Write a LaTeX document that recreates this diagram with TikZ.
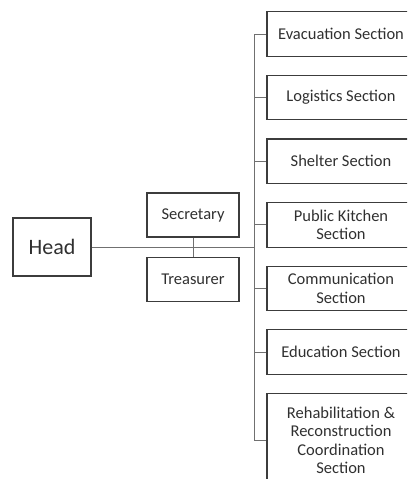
\documentclass[tikz,border=0pt]{standalone}
\usepackage{fontspec}
\setmainfont{Carlito}
\usepackage{xcolor}
\usetikzlibrary{positioning}

\definecolor{boxgray}{HTML}{3C3C3C}
\definecolor{linegray}{HTML}{707070}
\definecolor{textgray}{HTML}{303030}

\begin{document}
\begin{tikzpicture}[ x = 1pt, y = -1pt
                     , node distance = 18pt
                     , every node/.style = { rectangle
                                         , draw = boxgray
                                         , line width = 1.1pt
                                         , text = textgray
                                         , align = center
                                         , inner sep = 0pt }
                     , unit/.style = { minimum width = 92pt
                                     , minimum height = 44pt
                                     , font = \fontsize{16.5}{18}\selectfont }
                     , section/.style = { minimum width = 148pt
                                        , minimum height = 44.5pt
                                        , font = \fontsize{16.5}{18.3}\selectfont }
                     , link/.style = { draw = linegray, line width = 0.9pt }
                     ]

  \useasboundingbox (0,0) rectangle (407,479);
  \clip (0,0) rectangle (407,479);

  \node (head) [minimum width = 78pt, minimum height = 58pt,
                font = \fontsize{22}{24}\selectfont] at (52,247) {Head};
  \node (secretary) [unit] at (193,215) {Secretary};
  \node (treasurer) [unit, below = 19pt of secretary] {Treasurer};

  \node (evacuation) [section] at (341,34) {Evacuation Section};
  \node (logistics) [section, below = of evacuation] {Logistics Section};
  \node (shelter) [section, below = of logistics] {Shelter Section};
  \node (kitchen) [section, below = of shelter] {Public Kitchen\\Section};
  \node (communication) [section, below = of kitchen] {Communication\\Section};
  \node (education) [section, below = of communication] {Education Section};
  \node (rehab) [section, minimum height = 94pt, below = of education]
    {Rehabilitation \&\\Reconstruction\\Coordination\\Section};

  % trunk of the section tree
  \coordinate (trunk) at (254,0);
  \draw[link] (evacuation.west -| trunk) -- (rehab.west -| trunk);

  \foreach \sec in {evacuation, logistics, shelter, kitchen,
                    communication, education, rehab}
    \draw[link] (\sec.west -| trunk) -- (\sec.west);

  \draw[link] (head.east) -- (head.east -| trunk);
  \draw[link] (secretary.south) -- (treasurer.north);

\end{tikzpicture}
\end{document}
